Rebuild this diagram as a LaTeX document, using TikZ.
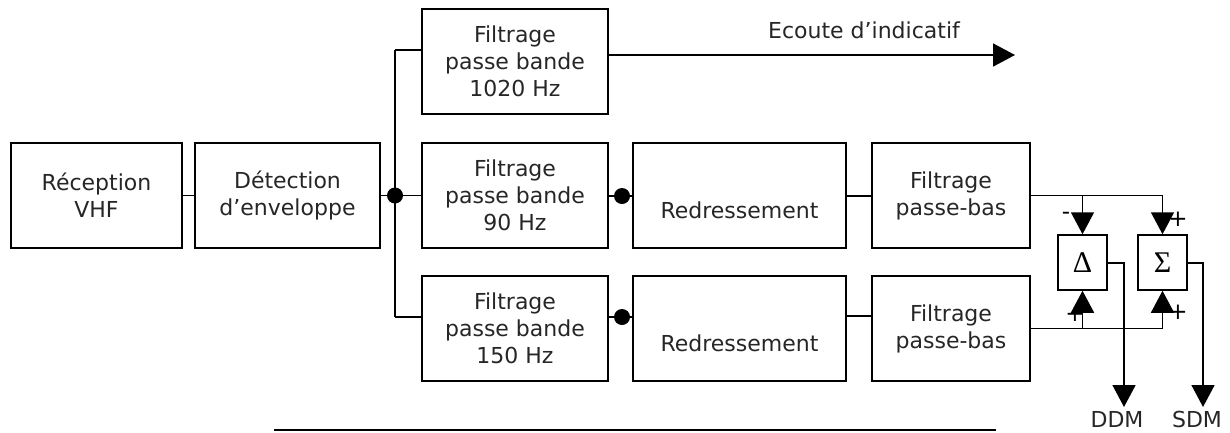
\documentclass[tikz,border=0pt]{standalone}
\usepackage{fontspec}
\setmainfont{DejaVu Sans}
\newfontfamily\symfont{Liberation Serif}
\usetikzlibrary{arrows.meta}
\begin{document}
\begin{tikzpicture}[x=1pt,y=-1pt,
  line width=1.6pt,
  blk/.style={draw,line width=1.5pt,inner sep=0pt,align=center,
    font=\fontsize{22}{27}\selectfont,text=black!85},
  opbox/.style={draw,line width=1.5pt,minimum width=49pt,minimum height=55pt,inner sep=0pt,
    font=\symfont\fontsize{30}{30}\selectfont},
  lbl/.style={font=\fontsize{22}{27}\selectfont,text=black!85,inner sep=0pt},
  sgn/.style={font=\fontsize{23}{23}\selectfont,inner sep=0pt},
  arr/.style={-{Triangle[length=22pt,width=23pt]}},
  dotj/.style={circle,fill=black,inner sep=0pt,minimum size=16pt}]
\useasboundingbox (0,0) rectangle (1230,432);
% blocks
\node[blk,minimum width=171pt,minimum height=105pt] (rx) at (96.5,195.5) {Réception\\VHF};
\node[blk,minimum width=185pt,minimum height=105pt] (det) at (287.5,195.5) {Détection\\d’enveloppe};
\node[blk,minimum width=186pt,minimum height=105pt] (f1) at (515,61.5) {Filtrage\\passe bande\\1020 Hz};
\node[blk,minimum width=186pt,minimum height=105pt] (f2) at (515,195.5) {Filtrage\\passe bande\\90 Hz};
\node[blk,minimum width=186pt,minimum height=105pt] (f3) at (515,328.5) {Filtrage\\passe bande\\150 Hz};
\node[blk,minimum width=213pt,minimum height=105pt] (r2) at (739.5,195.5) {};
\node[lbl] (r2t) at (739.5,210) {Redressement};
\node[blk,minimum width=213pt,minimum height=105pt] (r3) at (739.5,328.5) {};
\node[lbl] (r3t) at (739.5,343) {Redressement};
\node[blk,minimum width=158pt,minimum height=105pt] (p2) at (951,195.5) {Filtrage\\passe-bas};
\node[blk,minimum width=158pt,minimum height=105pt] (p3) at (951,328.5) {Filtrage\\passe-bas};
\node[opbox] (dl) at (1082.5,262.5) {Δ};
\node[opbox] (sg) at (1162.5,262.5) {Σ};
% junctions
\coordinate (jt) at (395,50);
\coordinate (jb) at (395,317);
\node[dotj] (j) at (395,195.5) {};
\node[dotj] (d2) at (622,196) {};
\node[dotj] (d3) at (622,317) {};
\coordinate (ec) at (1015,55);
\coordinate (ua) at (1082.5,195.5);
\coordinate (ub) at (1162.5,195.5);
\coordinate (la) at (1082.5,328.5);
\coordinate (lb) at (1162.5,328.5);
\coordinate (oa) at (1124,263);
\coordinate (ob) at (1203,263);
\coordinate (ddm) at (1124,407);
\coordinate (sdm) at (1203,407);
% connectors
\draw (rx.east) -- (det.west);
\draw (det.east) -- (j.center) -- (f2.west);
\draw (jt) -- (jb);
\draw (jt) -- (jt -| f1.west);
\draw (jb) -- (jb -| f3.west);
\draw[arr] (f1.east |- ec) -- (ec);
\draw (f2.east |- d2) -- (d2.center) -- (r2.west |- d2);
\draw (f3.east |- d3) -- (d3.center) -- (r3.west |- d3);
\draw (r2.east |- d2) -- (p2.west |- d2);
\draw (r3.east |- 0,316) -- (p3.west |- 0,316);
\draw (p2.east) -- (ub);
\draw (p3.east) -- (lb);
% signs
\node[sgn] (m1) at (1066,216) {-};
\node[sgn] (p1) at (1178,219) {+};
\node[sgn] (p4) at (1075,314) {+};
\node[sgn] (p5) at (1178,312) {+};
\draw[arr] (ua) -- (dl.north);
\draw[arr] (ub) -- (sg.north);
\draw[arr] (la) -- (dl.south);
\draw[arr] (lb) -- (sg.south);
\draw[arr] (dl.east |- oa) -- (oa) -- (ddm);
\draw[arr] (sg.east |- ob) -- (ob) -- (sdm);
% labels
\node[lbl] (ect) at (864,30) {Ecoute d’indicatif};
\node[lbl] (ddmt) at (1117,419) {DDM};
\node[lbl] (sdmt) at (1197,419) {SDM};
\coordinate (hl) at (274,430);
\coordinate (hr) at (996,430);
\draw (hl) -- (hr);
\end{tikzpicture}
\end{document}
